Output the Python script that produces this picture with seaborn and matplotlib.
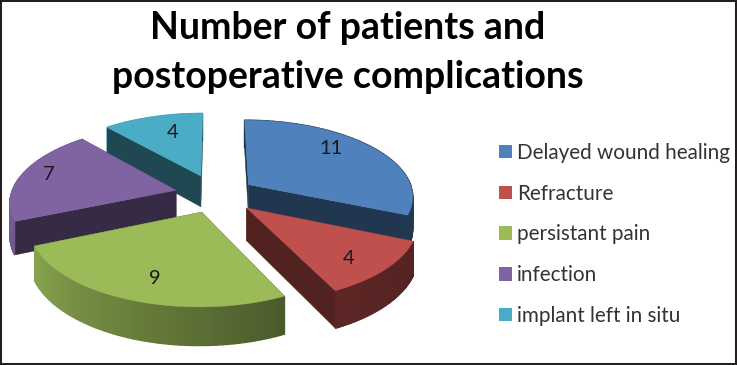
import matplotlib.pyplot as plt
import numpy as np
import seaborn as sns
from matplotlib.colors import to_rgb
from matplotlib.patches import Patch

categories = [
    "Delayed wound healing",
    "Refracture",
    "persistant pain",
    "infection",
    "implant left in situ",
]
patients = [11, 4, 9, 7, 4]
explode = [0.24, 0.25, 0.24, 0.25, 0.27]
colors = ["#4F81BD", "#C0504D", "#9BBB59", "#8064A2", "#4BACC6"]
title_lines = ["Number of patients and", "postoperative complications"]

# layout, in pixels of the 737x365 picture
CENTER = (216, 194)
WALL = 32
VALUE_LABEL_POS = [(331, 148), (349, 258), (155, 278), (49, 175), (173, 132)]
DRAW_ORDER = [4, 0, 3, 1, 2]  # back to front

sns.set_theme(style="white")
plt.rcParams["font.family"] = ["Lato", "DejaVu Sans"]


def project(x, y, drop=0.0):
    # unit disc to picture, front of the pie gets bigger
    w = 1 + 0.14 * y
    return CENTER[0] + 165 * x / w, CENTER[1] + (0.5 - 76 * y + drop) / w


def arc_wall_shade(theta):
    return np.interp(theta, [100, 154, 205, 247, 290], [0.42, 0.48, 0.7, 0.88, 0.95])


def draw_rim(ax, rim_x, rim_y, theta, rgb, keep):
    for j in range(len(theta) - 1):
        if not keep[j]:
            continue
        quad = [
            project(rim_x[j], rim_y[j]),
            project(rim_x[j + 1], rim_y[j + 1]),
            project(rim_x[j + 1], rim_y[j + 1], WALL),
            project(rim_x[j], rim_y[j], WALL),
        ]
        xs, ys = zip(*quad)
        ax.fill(xs, ys, color=rgb * arc_wall_shade(theta[j]), lw=1.0)


fig, ax = plt.subplots(figsize=(7.37, 3.65), dpi=100)
fig.subplots_adjust(0, 0, 1, 1)
ax.set_xlim(0, 737)
ax.set_ylim(365, 0)
ax.set_xticks([])
ax.set_yticks([])
for spine in ax.spines.values():
    spine.set_color("#231F20")
    spine.set_linewidth(2.9)

edges = np.concatenate([[0], np.cumsum(patients)]) / sum(patients) * 360

for i in DRAW_ORDER:
    start, stop = edges[i], edges[i + 1]
    mid = np.radians((start + stop) / 2)
    ox, oy = explode[i] * np.sin(mid), explode[i] * np.cos(mid)
    theta = np.linspace(start, stop, 60)
    rad = np.radians(theta)
    rim_x, rim_y = ox + np.sin(rad), oy + np.cos(rad)
    rgb = np.array(to_rgb(colors[i]))
    dark = rgb * 0.42
    front = np.cos(rad) < 0

    # back of the rim, then the cut faces, then the front of the rim
    draw_rim(ax, rim_x, rim_y, theta, rgb, ~front)
    for k in (0, -1):
        top = [project(ox, oy), project(rim_x[k], rim_y[k])]
        low = [project(rim_x[k], rim_y[k], WALL), project(ox, oy, WALL)]
        xs, ys = zip(*(top + low))
        ax.fill(xs, ys, color=dark, lw=0.3)
    draw_rim(ax, rim_x, rim_y, theta, rgb, front)

    # top face
    tx, ty = project(np.append(ox, rim_x), np.append(oy, rim_y))
    ax.fill(tx, ty, color=rgb, lw=0.3)

for value, (lx, ly) in zip(patients, VALUE_LABEL_POS):
    ax.text(lx, ly, str(value), fontsize=14.5, color="#1a1a1a", ha="center", va="center", zorder=20)

for line, y in zip(title_lines, [28, 77]):
    ax.text(348, y, line, fontsize=27, fontweight="bold", color="black", ha="center", va="center")

handles = [Patch(facecolor=c, edgecolor="none") for c in colors]
ax.legend(
    handles,
    categories,
    loc="upper left",
    bbox_to_anchor=(499, 143),
    bbox_transform=ax.transData,
    frameon=False,
    fontsize=14.9,
    labelcolor="#333333",
    handlelength=0.63,
    handleheight=0.63,
    handletextpad=0.24,
    labelspacing=1.0,
    borderpad=0,
    borderaxespad=0,
)

fig.savefig("out.png", dpi=100)
